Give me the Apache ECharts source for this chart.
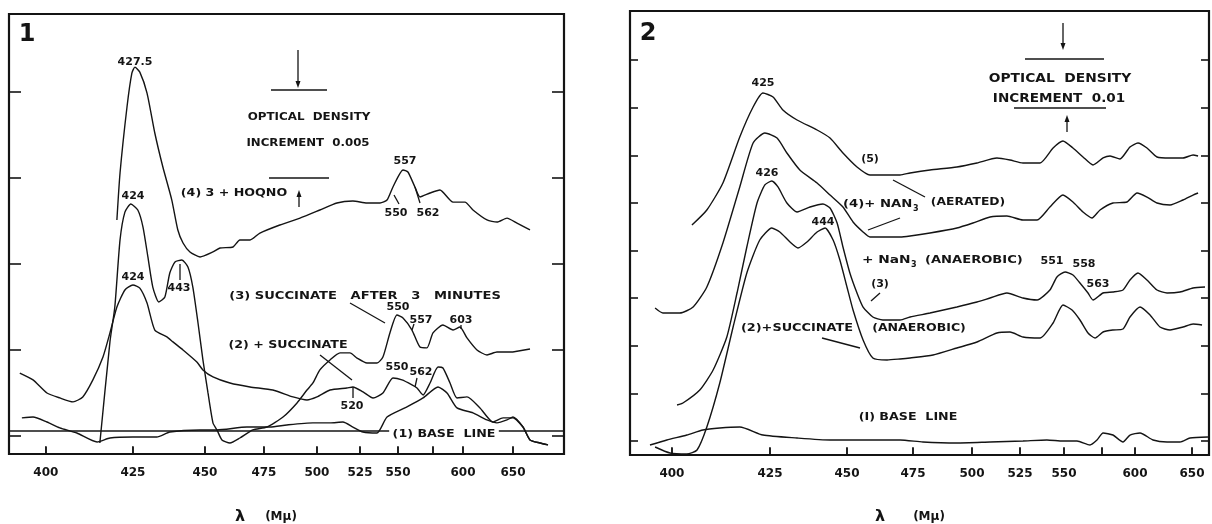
<!DOCTYPE html>
<html><head><meta charset="utf-8">
<script src="https://cdn.jsdelivr.net/npm/echarts@6/dist/echarts.min.js"></script>
<style>html,body{margin:0;padding:0;background:#fff}#c{width:1212px;height:524px}</style>
</head><body><div id="c"></div><script>
// ---- wavelength scale of the recording chart (non-linear prism scale) ----
const tickNm = [400,425,450,475,500,525,550,575,600,650];
const labelNm = [400,425,450,475,500,525,550,600,650];
const leftTickDrum  = [0,8.7,15.9,21.8,27.1,31.4,35.2,38.7,41.7,46.7];
const rightTickDrum = [0,9.8,17.5,24.1,30.0,34.8,39.2,43.0,46.3,52.0];
const leftRangeNm = [389.4, 701];
const rightRangeNm = [389.3, 664.9];
// optical density, in units of 0.001
const leftYTicks = [0,5,10,15,20];
const rightYTicks = [0,10,20,30,40,50,60,70,80];
const leftRangeOD = [-1.05, 24.54];
const rightRangeOD = [-2.94, 90.34];

// ---- Figure 1 curves: [wavelength (mµ), ΔOD x1000] ----
const left4 = [[420.4,12.56],[421.3,15.29],[423.3,19.13],[424.7,21.10],[425.7,21.45],[427.4,21.16],[429.9,19.94],[432.6,17.62],[435.4,15.64],[438.5,13.72],[440.6,11.98],[442.4,11.22],[444.8,10.70],[448.3,10.41],[453.4,10.70],[456.4,10.93],[461.9,10.99],[464.8,11.40],[469.1,11.40],[473.3,11.80],[482.5,12.27],[492.0,12.67],[501.7,13.14],[511.6,13.55],[520.9,13.66],[529.6,13.55],[538.2,13.55],[542.8,13.72],[546.7,14.48],[553.6,15.47],[557.1,15.35],[562.1,14.48],[565.7,13.90],[572.9,14.13],[580.8,14.30],[591.7,13.60],[602,13.60],[610,13.14],[624,12.56],[634,12.44],[644,12.67],[654,12.38],[667,11.98]];
const left3 = [[415.5,-0.41],[418.4,5.47],[419.8,7.50],[421.3,11.40],[422.7,13.02],[424.4,13.49],[426.7,13.14],[428.5,12.15],[430.2,10.41],[431.9,8.66],[434.0,7.79],[436.1,8.08],[437.8,9.48],[439.6,10.12],[442.0,10.23],[444.1,9.83],[445.8,8.66],[447.6,6.57],[449.3,4.42],[451.3,2.50],[453.4,0.76],[455.1,0.35],[457.2,-0.23],[460.6,-0.41],[464.8,-0.12],[470.3,0.35],[476.4,0.52],[484.0,1.10],[490.6,1.92],[495.3,2.67],[498.1,3.08],[501.7,3.84],[507.6,4.42],[513.4,4.83],[519.2,4.83],[523.3,4.53],[529.6,4.24],[536.2,4.24],[540.1,4.59],[544.7,5.99],[549.3,7.03],[553.6,6.86],[560.0,6.16],[565.7,5.17],[570.7,5.12],[575.0,5.99],[583.3,6.45],[591.7,6.16],[597.5,6.34],[604,5.70],[614,5.00],[624,4.71],[634,4.88],[647,4.88],[667,5.06]];
const left2 = [[392.5,3.66],[396.3,3.26],[400.3,2.50],[404.0,2.21],[407.8,1.98],[410.6,2.27],[413.5,3.26],[416.4,4.59],[418.4,5.99],[420.4,7.50],[422.7,8.49],[425.0,8.78],[427.4,8.60],[429.9,7.73],[432.6,6.16],[436.8,5.76],[438.9,5.47],[442.4,5.00],[447.2,4.30],[449.3,3.84],[453.4,3.43],[460.6,3.08],[469.1,2.85],[479.2,2.67],[488.7,2.27],[495.3,2.09],[500.0,2.27],[507.6,2.67],[517.4,2.79],[520.9,2.85],[527.0,2.56],[533.6,2.21],[540.1,2.50],[546.7,3.37],[552.9,3.26],[560.0,2.97],[563.6,2.79],[567.9,2.38],[572.9,3.08],[579.2,4.01],[583.3,3.95],[589.2,3.08],[595.0,2.21],[604,2.27],[617,1.63],[630,0.81],[640,1.05],[650,1.05],[660,0.52],[667,-0.23],[677,-0.41],[685,-0.52]];
const left1 = [[393.1,1.05],[396.3,1.10],[400.3,0.81],[404.0,0.47],[408.9,0.17],[414.7,-0.35],[418.4,-0.12],[425.0,-0.06],[433.3,-0.06],[437.8,0.23],[448.3,0.35],[455.1,0.35],[467.8,0.52],[477.8,0.52],[485.8,0.64],[498.1,0.76],[507.6,0.76],[515.1,0.81],[520.9,0.52],[527.0,0.23],[536.2,0.17],[542.8,1.10],[556.4,1.69],[567.9,2.21],[579.2,2.85],[586.7,2.50],[595.0,1.63],[610,1.34],[624,0.93],[634,0.76],[644,0.93],[650,1.10],[660,0.52],[667,-0.23],[677,-0.41],[685,-0.52]];
const leftBase = [[389.4,0.29],[701,0.29]];

// ---- Figure 2 curves ----
const right5 = [[405.1,45.38],[408.9,48.53],[413.0,54.21],[417.3,63.87],[420.7,70.17],[423.2,73.11],[426.0,72.27],[429.2,69.54],[433.8,67.44],[440.3,65.34],[444.5,63.66],[448.7,60.51],[453.8,57.57],[458.7,55.89],[465.2,55.89],[470.1,55.89],[473.9,56.31],[482.2,56.94],[493.6,57.57],[502.6,58.41],[513.0,59.46],[519.8,59.04],[526.7,58.41],[536.4,58.41],[543.8,61.56],[549.4,63.03],[555.9,61.56],[562.5,59.67],[569.1,57.99],[575.8,59.46],[581.1,59.88],[588.6,59.25],[596.2,61.77],[602.6,62.61],[610.5,61.56],[619.3,59.67],[630.7,59.46],[642.1,59.46],[650.9,60.09],[655.3,59.88]];
const right4 = [[395.7,27.94],[397.7,26.89],[402.0,26.89],[405.4,28.15],[408.9,32.36],[413.0,41.60],[417.3,53.37],[420.7,62.61],[423.7,64.71],[427.3,63.66],[430.5,60.51],[434.7,56.94],[440.3,54.21],[444.5,51.68],[448.7,49.16],[452.3,46.01],[456.1,43.91],[458.7,42.86],[465.2,42.86],[470.1,42.86],[473.9,43.07],[482.2,43.70],[493.6,44.75],[500.5,45.80],[509.4,47.06],[518.2,47.27],[526.7,46.43],[534.7,46.43],[542.0,49.16],[549.4,51.68],[555.9,50.21],[562.5,48.11],[568.4,46.85],[573.7,48.53],[583.3,50.00],[593.9,50.21],[601.8,52.10],[610.5,51.26],[619.3,50.00],[630.7,49.58],[642.1,50.63],[650.9,51.68],[655.3,52.10]];
const right3 = [[401.3,7.56],[402.8,7.98],[407.1,10.72],[410.5,14.92],[414.0,21.85],[416.6,31.09],[419.1,40.76],[421.7,50.00],[423.7,53.79],[425.6,54.63],[427.6,53.37],[430.5,50.00],[433.8,48.11],[438.0,49.16],[442.2,49.79],[444.5,48.95],[446.8,45.80],[448.7,40.76],[451.1,35.30],[453.8,31.09],[456.1,28.15],[459.8,26.05],[463.6,25.42],[470.1,25.42],[473.9,26.05],[482.2,26.89],[493.6,28.15],[502.6,29.20],[509.4,30.04],[518.2,31.09],[526.7,30.04],[534.7,29.62],[542.0,31.73],[546.0,34.46],[550.7,35.51],[555.9,34.88],[560.5,33.20],[565.8,31.09],[569.1,29.62],[575.8,31.09],[583.3,31.30],[590.9,31.73],[596.2,33.83],[602.6,35.30],[610.5,33.83],[619.3,31.73],[628.1,31.09],[639.5,31.30],[650.9,32.15],[661.4,32.36]];
const right2 = [[395.7,-1.26],[399.5,-2.52],[403.8,-2.73],[406.4,-1.89],[408.9,2.94],[412.2,12.19],[415.6,23.95],[419.1,35.30],[422.4,42.23],[425.6,44.75],[428.2,43.91],[431.5,41.81],[434.1,40.55],[437.0,41.81],[440.3,43.91],[442.9,44.75],[445.5,42.23],[447.7,38.03],[450.0,32.36],[452.3,27.52],[456.1,21.22],[459.8,17.44],[465.2,17.02],[470.1,17.23],[473.9,17.44],[483.5,18.07],[493.6,19.54],[502.6,20.80],[513.0,22.69],[519.8,22.90],[526.7,21.85],[536.4,21.64],[543.8,24.79],[549.4,28.57],[555.3,27.52],[560.5,25.42],[565.8,22.69],[570.4,21.64],[575.8,22.90],[583.3,23.32],[590.9,23.53],[596.2,26.05],[604.4,28.15],[613.2,26.47],[621.9,23.95],[630.7,23.32],[642.1,23.95],[650.9,24.58],[658.8,24.37]];
const right1 = [[394.4,-0.84],[398.7,0.21],[403.8,1.26],[407.9,2.31],[412.2,2.73],[417.3,2.94],[423.2,1.26],[433.8,0.63],[444.5,0.21],[456.1,0.21],[470.1,0.21],[479.2,-0.21],[493.6,-0.42],[509.4,-0.21],[526.7,0],[540.3,0.21],[549.4,0],[558.6,0],[567.1,-0.84],[571.7,0.21],[575.8,1.68],[583.3,1.26],[590.9,-0.21],[596.2,1.26],[604.4,1.68],[615.8,0.21],[628.1,-0.21],[639.5,-0.21],[648.2,0.63],[664.0,0.84]];

// ---- helpers ----
const INK = '#141414';
const FONT = '"DejaVu Sans", "Liberation Sans", sans-serif';
function toDrum(nm, drum) {
  const n = tickNm.length;
  let i = 0;
  if (nm <= tickNm[0]) i = 0;
  else if (nm >= tickNm[n-1]) i = n-2;
  else { while (nm > tickNm[i+1]) i++; }
  const t = (nm - tickNm[i]) / (tickNm[i+1] - tickNm[i]);
  return drum[i] + t * (drum[i+1] - drum[i]);
}
function mapCurve(c, drum) { return c.map(p => [toDrum(p[0], drum), p[1]]); }
function labelFor(v, drum) {
  for (const nm of labelNm) if (Math.abs(toDrum(nm, drum) - v) < 1e-6) return String(nm);
  return '';
}
function xAxisFor(gi, drum, range) {
  return {
    type:'value', gridIndex: gi, position:'bottom',
    min: toDrum(range[0], drum), max: toDrum(range[1], drum),
    axisLine:{show:true, onZero:false, lineStyle:{color:INK, width:2.2}}, splitLine:{show:false},
    axisTick:{show:true, inside:true, length:7, lineStyle:{color:INK, width:1.6},
      customValues: tickNm.map(nm => toDrum(nm, drum))},
    axisLabel:{show:true, margin:13, color:INK, fontFamily:FONT, fontWeight:'bold', fontSize:12,
      customValues: labelNm.map(nm => toDrum(nm, drum)),
      formatter: v => labelFor(v, drum)}
  };
}
function yAxisFor(gi, pos, range, ticks, len) {
  return {
    type:'value', gridIndex: gi, position: pos, min: range[0], max: range[1],
    axisLine:{show:false, onZero:false}, splitLine:{show:false}, axisLabel:{show:false},
    axisTick:{show:true, inside:true, length:len, lineStyle:{color:INK, width:1.6}, customValues: ticks}
  };
}
function curve(data, drum, xi, yi) {
  return {type:'line', xAxisIndex:xi, yAxisIndex:yi, data: mapCurve(data, drum),
    showSymbol:false, symbol:'none', smooth:0.2, clip:true,
    lineStyle:{color:INK, width:1.4}, silent:true};
}
// wavelength tick marks along the bottom edge, placed through the axis scales
function tickMarks(drum, xi, yi, yMin) {
  return {type:'scatter', xAxisIndex:xi, yAxisIndex:yi, silent:true, clip:false, z:5,
    data: tickNm.map(nm => [toDrum(nm, drum), yMin]),
    symbol:'rect', symbolSize:[1.7, 8], symbolOffset:[0, -4],
    itemStyle:{color:INK}};
}
function T(x, y, text, size, sx, extra) {
  return {type:'text', x:x, y:y, scaleX: sx || 1, z:20,
    style: Object.assign({text:text, font:'bold ' + size + 'px ' + FONT, fill:INK,
      align:'center', verticalAlign:'middle'}, extra || {})};
}
function TL(x, y, text, size, sx, extra) {
  return T(x, y, text, size, sx, Object.assign({align:'left'}, extra || {}));
}
function L(x1, y1, x2, y2, w) {
  return {type:'line', z:20, shape:{x1:x1,y1:y1,x2:x2,y2:y2}, style:{stroke:INK, lineWidth:w || 1.3}};
}
function arrowDown(x, y) { return {type:'polygon', z:20, shape:{points:[[x-2.5,y-7],[x+2.5,y-7],[x,y]]}, style:{fill:INK}}; }
function arrowUp(x, y) { return {type:'polygon', z:20, shape:{points:[[x-2.5,y+7],[x+2.5,y+7],[x,y]]}, style:{fill:INK}}; }

const S = 1.15;
const graphics = [
  // panel 1
  T(27, 35, '1', 24),
  T(135, 62, '427.5', 11),
  T(133, 196, '424', 11),
  T(133, 277, '424', 11),
  T(179, 288, '443', 11), L(180, 264, 180, 280),
  L(298, 50, 298, 82), arrowDown(298, 88),
  L(271, 90, 327, 90),
  T(309, 117, 'OPTICAL  DENSITY', 11, 1.08),
  T(308, 143, 'INCREMENT  0.005', 11, 1.07),
  L(269, 178, 329, 178),
  L(299, 196, 299, 207), arrowUp(299, 190),
  T(234, 193, '(4) 3 + HOQNO', 11, S),
  T(405, 161, '557', 11),
  T(396, 213, '550', 11), L(394, 195, 399, 204),
  T(428, 213, '562', 11), L(415, 187, 420, 203),
  T(365, 296, '(3) SUCCINATE   AFTER   3   MINUTES', 11, 1.19),
  L(350, 303, 385, 323),
  T(398, 307, '550', 11),
  T(421, 320, '557', 11), L(414, 324, 412, 330),
  T(461, 320, '603', 11), L(461, 325, 461, 329),
  T(288, 345, '(2) + SUCCINATE', 11, S),
  L(320, 355, 352, 380),
  T(397, 367, '550', 11),
  T(421, 372, '562', 11), L(417, 378, 415, 387),
  T(352, 406, '520', 11), L(353, 387, 353, 398),
  T(444, 434, '(1) BASE  LINE', 11, S, {backgroundColor:'#fff', padding:[1,3]}),
  T(240, 517, 'λ', 16), T(281, 517, '(Mμ)', 12),
  // panel 2
  T(648, 34, '2', 24),
  L(1063, 23, 1063, 44), arrowDown(1063, 50),
  L(1025, 59, 1104, 59),
  T(1060, 79, 'OPTICAL  DENSITY', 12, S),
  T(1059, 99, 'INCREMENT  0.01', 12, 1.13),
  L(1014, 108, 1106, 108),
  L(1067, 121, 1067, 132), arrowUp(1067, 115),
  T(763, 83, '425', 11),
  T(870, 159, '(5)', 11),
  L(893, 180, 925, 197),
  T(767, 173, '426', 11),
  T(823, 222, '444', 11),
  TL(843, 204, '(4)+ NAN', 11, 1.2), TL(913, 209, '3', 8),
  T(968, 202, '(AERATED)', 11, 1.12),
  L(868, 230, 900, 218),
  TL(862, 260, '+ NaN', 11, 1.25), TL(911, 265, '3', 8),
  TL(925, 260, '(ANAEROBIC)', 11, 1.19),
  T(1052, 261, '551', 11),
  T(1084, 264, '558', 11),
  T(1098, 284, '563', 11),
  T(880, 284, '(3)', 11), L(880, 293, 871, 301),
  T(797, 328, '(2)+SUCCINATE', 11, 1.17),
  T(919, 328, '(ANAEROBIC)', 11, 1.14),
  L(822, 338, 860, 348),
  T(908, 417, '(I) BASE  LINE', 11, S),
  T(880, 517, 'λ', 16), T(929, 517, '(Mμ)', 12)
];

const chart = echarts.init(document.getElementById('c'), null, {renderer:'canvas'});
chart.setOption({
  backgroundColor:'#fff',
  animation:false,
  grid:[
    {left:9, top:14, width:555, height:440, show:true, borderColor:INK, borderWidth:2.2, backgroundColor:'transparent'},
    {left:630, top:11, width:579, height:444, show:true, borderColor:INK, borderWidth:2.2, backgroundColor:'transparent'}
  ],
  xAxis:[ xAxisFor(0, leftTickDrum, leftRangeNm), xAxisFor(1, rightTickDrum, rightRangeNm) ],
  yAxis:[
    yAxisFor(0, 'left', leftRangeOD, leftYTicks, 12),
    yAxisFor(0, 'right', leftRangeOD, leftYTicks, 12),
    yAxisFor(1, 'left', rightRangeOD, rightYTicks, 8),
    yAxisFor(1, 'right', rightRangeOD, rightYTicks, 8)
  ],
  series:[
    Object.assign(curve(leftBase, leftTickDrum, 0, 0), {smooth:false}),
    curve(left1, leftTickDrum, 0, 0),
    curve(left2, leftTickDrum, 0, 0),
    curve(left3, leftTickDrum, 0, 0),
    curve(left4, leftTickDrum, 0, 0),
    curve(right1, rightTickDrum, 1, 2),
    curve(right2, rightTickDrum, 1, 2),
    curve(right3, rightTickDrum, 1, 2),
    curve(right4, rightTickDrum, 1, 2),
    curve(right5, rightTickDrum, 1, 2),
    tickMarks(leftTickDrum, 0, 0, leftRangeOD[0]),
    tickMarks(rightTickDrum, 1, 2, rightRangeOD[0])
  ],
  graphic: graphics
});
</script></body></html>
